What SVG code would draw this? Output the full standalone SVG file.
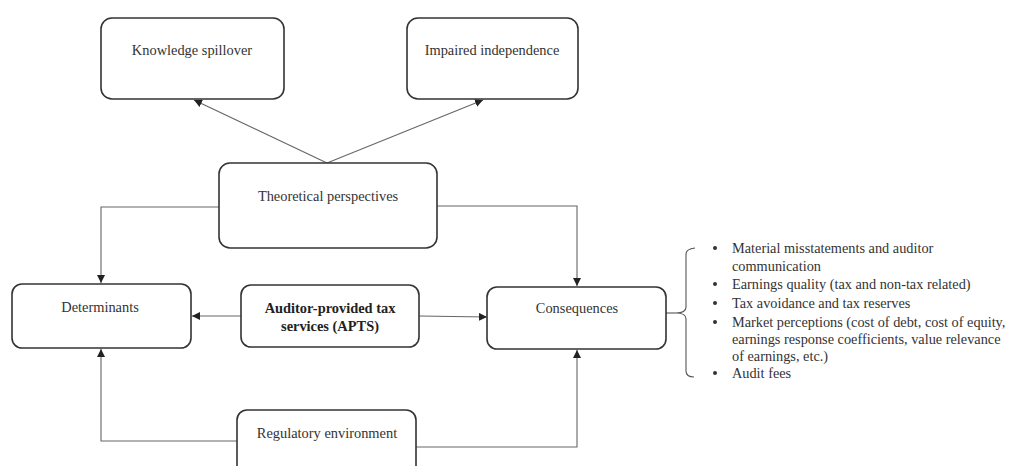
<svg xmlns="http://www.w3.org/2000/svg" width="1010" height="466" viewBox="0 0 1010 466">
<defs>
<marker id="ah" viewBox="0 0 10 10" refX="10" refY="5" markerWidth="8" markerHeight="8" markerUnits="userSpaceOnUse" orient="auto">
<path d="M0,0 L10,5 L0,10 Z" fill="#222"/>
</marker>
<style>
.box{fill:#fff;stroke:#333;stroke-width:1.6}
.t{font-family:"Liberation Serif","Times New Roman",serif;font-size:14.4px;fill:#333;text-anchor:middle}
.b{font-weight:bold;fill:#222}
.l{font-family:"Liberation Serif","Times New Roman",serif;font-size:14.3px;fill:#333}
.c{fill:none;stroke:#666;stroke-width:1.1;marker-end:url(#ah)}
.br{fill:none;stroke:#555;stroke-width:1.1}
</style>
</defs>
<rect width="1010" height="466" fill="#fff"/>
<g id="connectors">
<path class="c" d="M327,163 L194,100"/>
<path class="c" d="M327,163 L483,100"/>
<path class="c" d="M219,207 L101,207 L101,283"/>
<path class="c" d="M437,206 L577,206 L577,286"/>
<path class="c" d="M241,316 L192,316"/>
<path class="c" d="M419,316 L487,317"/>
<path class="c" d="M237,441 L101,441 L101,349"/>
<path class="c" d="M416,447 L577,447 L577,350"/>
<path class="br" d="M666,313 L676,313"/>
</g>
<g id="knowledge-spillover">
<rect class="box" x="101" y="18" width="183" height="81" rx="11"/>
<text class="t" x="192" y="55">Knowledge spillover</text>
</g>
<g id="impaired-independence">
<rect class="box" x="407" y="18" width="171" height="81" rx="11"/>
<text class="t" x="492" y="55">Impaired independence</text>
</g>
<g id="theoretical-perspectives">
<rect class="box" x="219" y="163" width="218" height="85" rx="11"/>
<text class="t" x="328" y="201">Theoretical perspectives</text>
</g>
<g id="determinants">
<rect class="box" x="12" y="284" width="179" height="64" rx="10"/>
<text class="t" x="100" y="312">Determinants</text>
</g>
<g id="apts">
<rect class="box" x="241" y="285" width="178" height="62" rx="10"/>
<text class="t b" x="330" y="313">Auditor-provided tax</text>
<text class="t b" x="330" y="331">services (APTS)</text>
</g>
<g id="consequences">
<rect class="box" x="487" y="287" width="179" height="62" rx="10"/>
<text class="t" x="577" y="313">Consequences</text>
</g>
<g id="regulatory-environment">
<rect class="box" x="237" y="410" width="179" height="70" rx="10"/>
<text class="t" x="327" y="438">Regulatory environment</text>
</g>
<g id="consequence-list">
<path class="br" d="M695,248 Q686,249 686,254 L686,307 Q686,313 676,313 Q686,313 686,319 L686,371 Q686,377 694,377"/>
<g fill="#333">
<circle cx="715" cy="248" r="2"/>
<circle cx="715" cy="284" r="2"/>
<circle cx="715" cy="303" r="2"/>
<circle cx="715" cy="322" r="2"/>
<circle cx="715" cy="373" r="2"/>
</g>
<text class="l" x="732" y="253">Material misstatements and auditor</text>
<text class="l" x="732" y="271">communication</text>
<text class="l" x="732" y="289">Earnings quality (tax and non-tax related)</text>
<text class="l" x="732" y="308">Tax avoidance and tax reserves</text>
<text class="l" x="732" y="327">Market perceptions (cost of debt, cost of equity,</text>
<text class="l" x="732" y="344">earnings response coefficients, value relevance</text>
<text class="l" x="732" y="361">of earnings, etc.)</text>
<text class="l" x="732" y="378">Audit fees</text>
</g>
</svg>
